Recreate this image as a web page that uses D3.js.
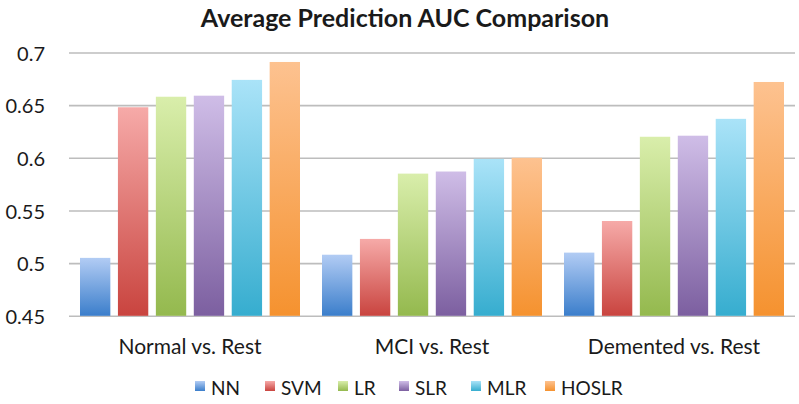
<!DOCTYPE html>
<html>
<head>
<meta charset="utf-8">
<script src="https://cdn.jsdelivr.net/npm/d3@7"></script>
<style>
  html, body { margin: 0; padding: 0; background: #fff; }
  svg { display: block; }
  text { font-family: Lato, "Open Sans", sans-serif; fill: #1a1a1a; }
</style>
</head>
<body>
<svg id="chart" width="799" height="404"></svg>
<script>
const categories = ["Normal vs. Rest", "MCI vs. Rest", "Demented vs. Rest"];
const seriesNames = ["NN", "SVM", "LR", "SLR", "MLR", "HOSLR"];
const NN    = [0.505, 0.508, 0.510];
const SVM   = [0.648, 0.523, 0.540];
const LR    = [0.658, 0.585, 0.620];
const SLR   = [0.659, 0.587, 0.621];
const MLR   = [0.674, 0.599, 0.637];
const HOSLR = [0.691, 0.600, 0.672];
const yTicks = [0.45, 0.5, 0.55, 0.6, 0.65, 0.7];
const yTickLabels = ["0.45", "0.5", "0.55", "0.6", "0.65", "0.7"];
const colorsTop    = ["#b2ccf4", "#f6aaa8", "#d9eeab", "#cfbde7", "#aae3f8", "#fdc290"];
const colorsBottom = ["#3b7ecb", "#c9443f", "#94b94e", "#7c5fa0", "#36adcf", "#f5922f"];

const seriesValues = [NN, SVM, LR, SLR, MLR, HOSLR];

const svg = d3.select("#chart");
const plotL = 69, plotR = 795, plotT = 52.5, plotB = 315.8;

const x0 = d3.scaleBand().domain(categories).range([plotL, plotR]).padding(0);
const x1 = d3.scaleBand().domain(seriesNames).range([11, x0.bandwidth() - 11]).paddingInner(0.2).paddingOuter(0);
const y = d3.scaleLinear().domain([0.45, 0.7]).range([plotB, plotT]);

// gradients
const defs = svg.append("defs");
seriesNames.forEach((s, i) => {
  const g = defs.append("linearGradient").attr("id", "grad" + i)
    .attr("x1", 0).attr("y1", 0).attr("x2", 0).attr("y2", 1);
  g.append("stop").attr("offset", "0%").attr("stop-color", colorsTop[i]);
  g.append("stop").attr("offset", "100%").attr("stop-color", colorsBottom[i]);
});

// title
svg.append("text")
  .attr("x", 405).attr("y", 26.5)
  .attr("text-anchor", "middle")
  .style("font-size", "25px").style("font-weight", "bold")
  .text("Average Prediction AUC Comparison");

// gridlines via axis
const yAxis = d3.axisLeft(y).tickValues(yTicks).tickSize(-(plotR - plotL))
  .tickFormat((d, i) => yTickLabels[i]);
const gy = svg.append("g").attr("transform", `translate(${plotL},0)`).call(yAxis);
gy.select(".domain").remove();
gy.selectAll(".tick line").attr("stroke", "#bdbdbd").attr("stroke-width", 1.6);
gy.selectAll(".tick text")
  .attr("x", -24).attr("dy", "0.38em")
  .style("font-size", "20px").style("fill", "#1a1a1a");

// bars
const groups = svg.append("g").selectAll("g")
  .data(categories).join("g")
  .attr("transform", d => `translate(${x0(d)},0)`);

groups.selectAll("rect")
  .data((c, ci) => seriesNames.map((s, si) => ({ s, si, v: seriesValues[si][ci] })))
  .join("rect")
  .attr("x", d => x1(d.s))
  .attr("width", x1.bandwidth())
  .attr("y", d => y(d.v))
  .attr("height", d => y(0.45) - y(d.v))
  .attr("fill", d => `url(#grad${d.si})`);

// category labels
svg.append("g").selectAll("text")
  .data(categories).join("text")
  .attr("x", d => x0(d) + x0.bandwidth() / 2)
  .attr("y", 354)
  .attr("text-anchor", "middle")
  .style("font-size", "21px")
  .text(d => d);

// legend
const legendX = [195, 265, 338, 399, 471, 545];
const legend = svg.append("g").selectAll("g")
  .data(seriesNames).join("g")
  .attr("transform", (d, i) => `translate(${legendX[i]},381)`);
legend.append("rect")
  .attr("width", 10).attr("height", 10)
  .attr("fill", (d, i) => `url(#grad${i})`);
legend.append("text")
  .attr("x", 16).attr("y", 14)
  .style("font-size", "19px")
  .text(d => d);
</script>
</body>
</html>
